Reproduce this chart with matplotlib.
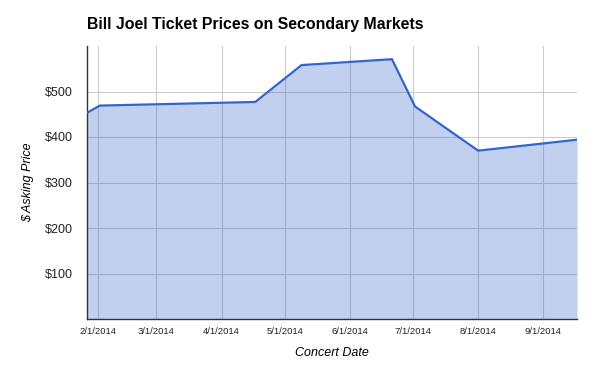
import datetime as dt
import matplotlib
matplotlib.use("Agg")
import matplotlib.pyplot as plt
import matplotlib.dates as mdates

# data
concert_dates = ["2014-01-27", "2014-02-02", "2014-04-17", "2014-05-09",
                 "2014-06-21", "2014-07-02", "2014-08-01", "2014-09-17"]
asking_price = [453, 469, 477, 558, 571, 467, 370, 394]
price_ticks = [100, 200, 300, 400, 500]
date_ticks = ["2014-02-01", "2014-03-01", "2014-04-01", "2014-05-01",
              "2014-06-01", "2014-07-01", "2014-08-01", "2014-09-01"]

plt.rcParams['font.family'] = ['Liberation Sans', 'DejaVu Sans']

x = [dt.datetime.strptime(d, "%Y-%m-%d") for d in concert_dates]
xt = [dt.datetime.strptime(d, "%Y-%m-%d") for d in date_ticks]

fig = plt.figure(figsize=(5.96, 3.68), dpi=100)
ax = fig.add_axes([87 / 596, 1 - 319 / 368, (577 - 87) / 596, (319 - 46) / 368])

line_col = "#3366cc"
ax.fill_between(x, asking_price, 0, color=line_col, alpha=0.3, linewidth=0, zorder=2)
ax.plot(x, asking_price, color=line_col, linewidth=1.6, zorder=3)

ax.set_xlim(x[0], x[-1])
ax.set_ylim(0, 600)

ax.set_yticks(price_ticks)
ax.set_yticklabels(["\\$%d" % p for p in price_ticks])
ax.set_xticks(xt)
ax.set_xticklabels(["%d/%d/%d" % (d.month, d.day, d.year) for d in xt])

ax.grid(True, color="#cccccc", linewidth=0.8, zorder=1)
ax.set_axisbelow(True)
ax.tick_params(length=0, colors="#222222")
ax.tick_params(axis="y", pad=10, labelsize=9)
ax.tick_params(axis="x", pad=6, labelsize=6.8)

for s in ["top", "right"]:
    ax.spines[s].set_visible(False)
for s in ["left", "bottom"]:
    ax.spines[s].set_color("#333333")
    ax.spines[s].set_linewidth(1.0)

ax.set_xlabel("Concert Date", style="italic", fontsize=9, labelpad=8)
ax.set_ylabel("$ Asking Price", style="italic", fontsize=9, labelpad=8)

fig.text(87 / 596, 1 - 24 / 368, "Bill Joel Ticket Prices on Secondary Markets",
         fontsize=11.4, fontweight="bold", va="center", ha="left")

fig.savefig("out.png", dpi=100)
